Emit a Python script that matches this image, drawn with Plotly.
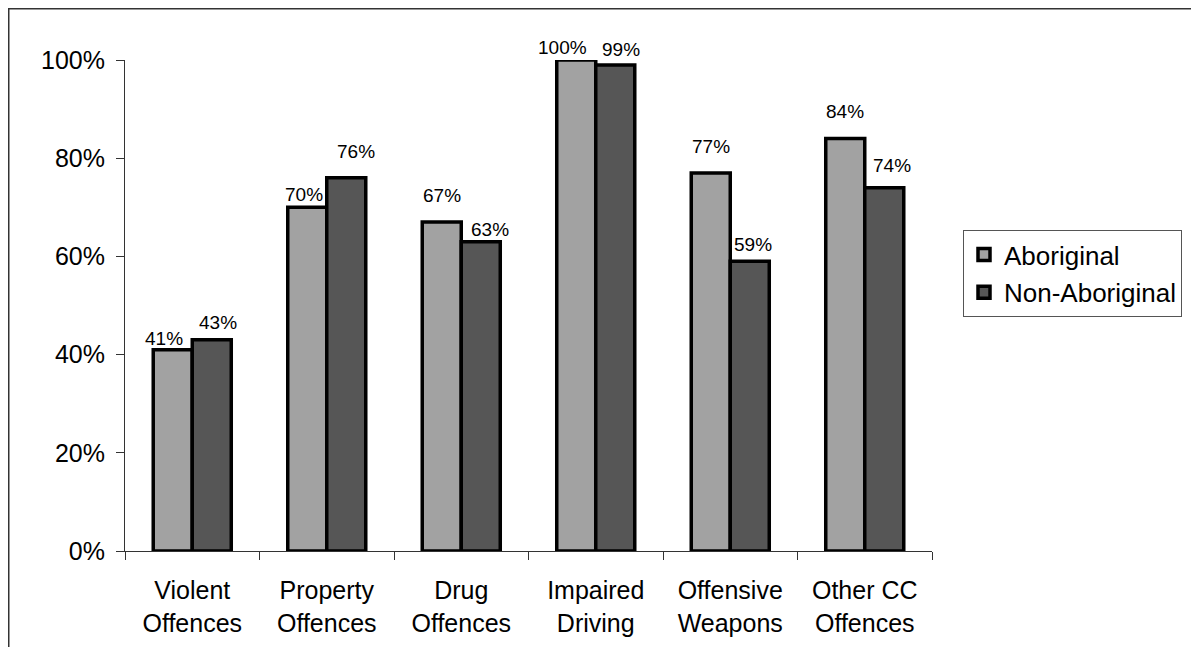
import plotly.graph_objects as go

categories = ["Violent<br>Offences", "Property<br>Offences", "Drug<br>Offences",
              "Impaired<br>Driving", "Offensive<br>Weapons", "Other CC<br>Offences"]
aboriginal = [0.41, 0.70, 0.67, 1.00, 0.77, 0.84]
non_aboriginal = [0.43, 0.76, 0.63, 0.99, 0.59, 0.74]
series_names = ["Aboriginal", "Non-Aboriginal"]
tick_vals = [0, 0.2, 0.4, 0.6, 0.8, 1.0]
tick_text = ["0%", "20%", "40%", "60%", "80%", "100%"]

# label style offsets (pixels) to mimic the original label placement
ab_label_dx = [-9, -3, 0, -14, 0, 0]
ab_label_dy = [11, 13, 27, 13, 26, 27]
non_label_dx = [6, 10, 9, 6, 3, 8]
non_label_dy = [17, 26, 12, 15, 17, 22]
half_bar = 19.5

FONT = "Liberation Sans, Arial, sans-serif"
colors = ["#a2a2a2", "#565656"]

# plot area in figure pixels
L, T, W, H = 117, 52, 807, 491

fig = go.Figure()
for name, vals, col in zip(series_names, [aboriginal, non_aboriginal], colors):
    fig.add_trace(go.Bar(
        x=categories, y=vals, name=name, legendgroup=name,
        marker=dict(color=col, line=dict(color="black", width=3.5)),
    ))

annotations = []
for vals, dxs, dys, side in [(aboriginal, ab_label_dx, ab_label_dy, -1),
                             (non_aboriginal, non_label_dx, non_label_dy, 1)]:
    for c, v, dx, dy in zip(categories, vals, dxs, dys):
        annotations.append(dict(
            x=c, y=v, xref="x", yref="y", text=f"{round(v*100)}%",
            showarrow=False, xanchor="center", yanchor="middle",
            xshift=side * half_bar + dx, yshift=dy,
            font=dict(family=FONT, size=19, color="black"),
        ))

fig.update_layout(
    width=1199, height=647,
    margin=dict(l=L, r=1199 - L - W, t=T, b=647 - T - H),
    paper_bgcolor="white", plot_bgcolor="white",
    barmode="group", bargap=0.42, bargroupgap=0,
    font=dict(family=FONT, size=25, color="black"),
    annotations=annotations,
    showlegend=True,
    legend=dict(
        x=838 / W, y=(H - 170) / H, xanchor="left", yanchor="top",
        bordercolor="#555555", borderwidth=1, bgcolor="white",
        font=dict(family=FONT, size=26, color="black"),
        traceorder="grouped", tracegroupgap=1,
    ),
    xaxis=dict(
        showline=True, linecolor="#333333", linewidth=1,
        ticks="outside", tickson="boundaries", ticklen=8, tickcolor="#333333",
        showgrid=False, tickfont=dict(family=FONT, size=25, color="black"),
        ticklabelstandoff=17, fixedrange=True,
    ),
    yaxis=dict(
        range=[0, 1], tickvals=tick_vals, ticktext=tick_text,
        showline=True, linecolor="#333333", linewidth=1,
        ticks="outside", ticklen=8, tickcolor="#333333",
        showgrid=False, zeroline=False,
        tickfont=dict(family=FONT, size=25, color="black"),
        ticklabelstandoff=6,
    ),
    shapes=[dict(
        type="rect", xref="paper", yref="paper",
        x0=(0.5 - L) / W, x1=1.6, y0=-0.5, y1=(T + H - 0.5) / H,
        line=dict(color="#333333", width=2), fillcolor="rgba(0,0,0,0)",
        layer="below",
    )],
)

fig.write_html("out.html")
